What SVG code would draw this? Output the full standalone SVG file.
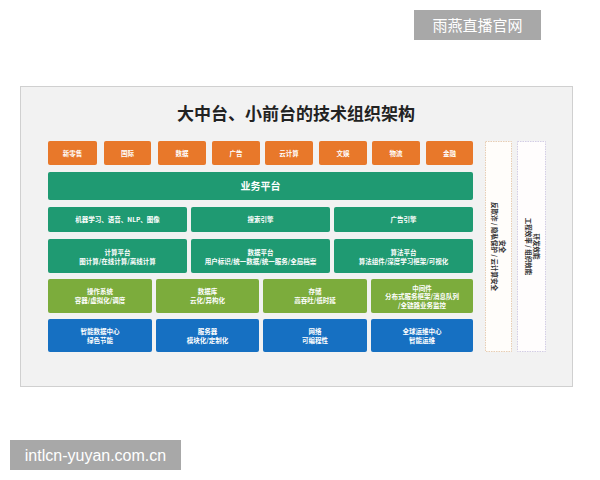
<svg xmlns="http://www.w3.org/2000/svg" width="600" height="480" viewBox="0 0 600 480">
<style>
text{font-family:"Noto Sans CJK SC","Noto Sans",sans-serif;text-anchor:middle;}
.o{fill:#e8782a;}
.t{fill:#1f9a72;}
.l{fill:#7cac3c;}
.b{fill:#1670c2;}
.lb{fill:#ffffff;font-size:6.5px;font-weight:bold;}
.big{font-size:10px;}
.wm{fill:#a8a8a8;}
.wt{fill:#ffffff;}
</style>
<rect width="600" height="480" fill="#ffffff"/>
<g id="watermark-top"><rect class="wm" x="414" y="10" width="127" height="30"/><text class="wt" x="477.5" y="31" font-size="15">雨燕直播官网</text></g>
<g id="panel"><rect x="20.5" y="86.5" width="552" height="300" fill="#f2f2f2" stroke="#d0d0d0" stroke-width="1"/>
<text x="296" y="120" font-size="17" font-weight="bold" fill="#222222">大中台、小前台的技术组织架构</text></g>
<g id="front">
<g id="n1"><rect class="o" x="48" y="141" width="49" height="24" rx="2"/><text class="lb" x="72.5" y="155.5">新零售</text></g>
<g id="n2"><rect class="o" x="104" y="141" width="47" height="24" rx="2"/><text class="lb" x="127.5" y="155.5">国际</text></g>
<g id="n3"><rect class="o" x="158" y="141" width="48" height="24" rx="2"/><text class="lb" x="182" y="155.5">数据</text></g>
<g id="n4"><rect class="o" x="212" y="141" width="48" height="24" rx="2"/><text class="lb" x="236" y="155.5">广告</text></g>
<g id="n5"><rect class="o" x="265" y="141" width="48" height="24" rx="2"/><text class="lb" x="289" y="155.5">云计算</text></g>
<g id="n6"><rect class="o" x="319" y="141" width="48" height="24" rx="2"/><text class="lb" x="343" y="155.5">文娱</text></g>
<g id="n7"><rect class="o" x="372" y="141" width="48" height="24" rx="2"/><text class="lb" x="396" y="155.5">物流</text></g>
<g id="n8"><rect class="o" x="426" y="141" width="47" height="24" rx="2"/><text class="lb" x="449.5" y="155.5">金融</text></g>
</g>
<g id="biz"><rect class="t" x="48" y="172" width="425" height="28" rx="2"/><text class="lb big" x="260.5" y="189.5">业务平台</text></g>
<g id="row3">
<g id="ml"><rect class="t" x="48" y="207" width="139" height="25" rx="2"/><text class="lb" x="117.5" y="222">机器学习、语音、NLP、图像</text></g>
<g id="search"><rect class="t" x="191" y="207" width="139" height="25" rx="2"/><text class="lb" x="260.5" y="222">搜索引擎</text></g>
<g id="ad"><rect class="t" x="334" y="207" width="139" height="25" rx="2"/><text class="lb" x="403.5" y="222">广告引擎</text></g>
</g>
<g id="row4">
<g id="compute"><rect class="t" x="48" y="239" width="139" height="34" rx="2"/><text class="lb" x="117.5" y="254.5">计算平台</text><text class="lb" x="117.5" y="263.5">图计算/在线计算/离线计算</text></g>
<g id="data"><rect class="t" x="191" y="239" width="139" height="34" rx="2"/><text class="lb" x="260.5" y="254.5">数据平台</text><text class="lb" x="260.5" y="263.5">用户标识/统一数据/统一服务/全局档案</text></g>
<g id="algo"><rect class="t" x="334" y="239" width="139" height="34" rx="2"/><text class="lb" x="403.5" y="254.5">算法平台</text><text class="lb" x="403.5" y="263.5">算法组件/深度学习框架/可视化</text></g>
</g>
<g id="row5">
<g id="os"><rect class="l" x="48" y="279" width="104" height="34" rx="2"/><text class="lb" x="100" y="293.5">操作系统</text><text class="lb" x="100" y="302.5">容器/虚拟化/调度</text></g>
<g id="db"><rect class="l" x="156" y="279" width="103" height="34" rx="2"/><text class="lb" x="207.5" y="293.5">数据库</text><text class="lb" x="207.5" y="302.5">云化/异构化</text></g>
<g id="storage"><rect class="l" x="263" y="279" width="104" height="34" rx="2"/><text class="lb" x="315" y="293.5">存储</text><text class="lb" x="315" y="302.5">高吞吐/低时延</text></g>
<g id="mw"><rect class="l" x="371" y="279" width="102" height="34" rx="2"/><text class="lb" x="422" y="290.5">中间件</text><text class="lb" x="422" y="299">分布式服务框架/消息队列</text><text class="lb" x="422" y="307.5">/全链路业务监控</text></g>
</g>
<g id="row6">
<g id="idc"><rect class="b" x="48" y="319" width="104" height="33" rx="2"/><text class="lb" x="100" y="334">智能数据中心</text><text class="lb" x="100" y="342.5">绿色节能</text></g>
<g id="server"><rect class="b" x="156" y="319" width="103" height="33" rx="2"/><text class="lb" x="207.5" y="334">服务器</text><text class="lb" x="207.5" y="342.5">模块化/定制化</text></g>
<g id="net"><rect class="b" x="263" y="319" width="104" height="33" rx="2"/><text class="lb" x="315" y="334">网络</text><text class="lb" x="315" y="342.5">可编程性</text></g>
<g id="ops"><rect class="b" x="371" y="319" width="102" height="33" rx="2"/><text class="lb" x="422" y="334">全球运维中心</text><text class="lb" x="422" y="342.5">智能运维</text></g>
</g>
<g id="security"><rect x="485.5" y="141.5" width="26" height="210" fill="#fffdfa" stroke="#e3c3a3" stroke-width="0.8" stroke-dasharray="1.5,1"/>
<text transform="translate(498.5,246.5) rotate(90)" font-size="6.5" font-weight="bold" fill="#333333"><tspan x="0" y="-1.5">安全</tspan><tspan x="0" y="6.5">反欺诈 / 隐私保护 / 云计算安全</tspan></text></g>
<g id="devops"><rect x="517.5" y="141.5" width="28" height="210" fill="#fffdfd" stroke="#c9c2e0" stroke-width="0.8" stroke-dasharray="1.5,1"/>
<text transform="translate(531.5,246.5) rotate(90)" font-size="6.5" font-weight="bold" fill="#333333"><tspan x="0" y="-2">研发效能</tspan><tspan x="0" y="6">工程效率 / 组织效能</tspan></text></g>
<g id="watermark-bottom"><rect class="wm" x="10" y="440" width="171" height="30"/><text class="wt" x="95.5" y="461" font-size="16" style="font-family:'Liberation Sans',sans-serif">intlcn-yuyan.com.cn</text></g>
</svg>
